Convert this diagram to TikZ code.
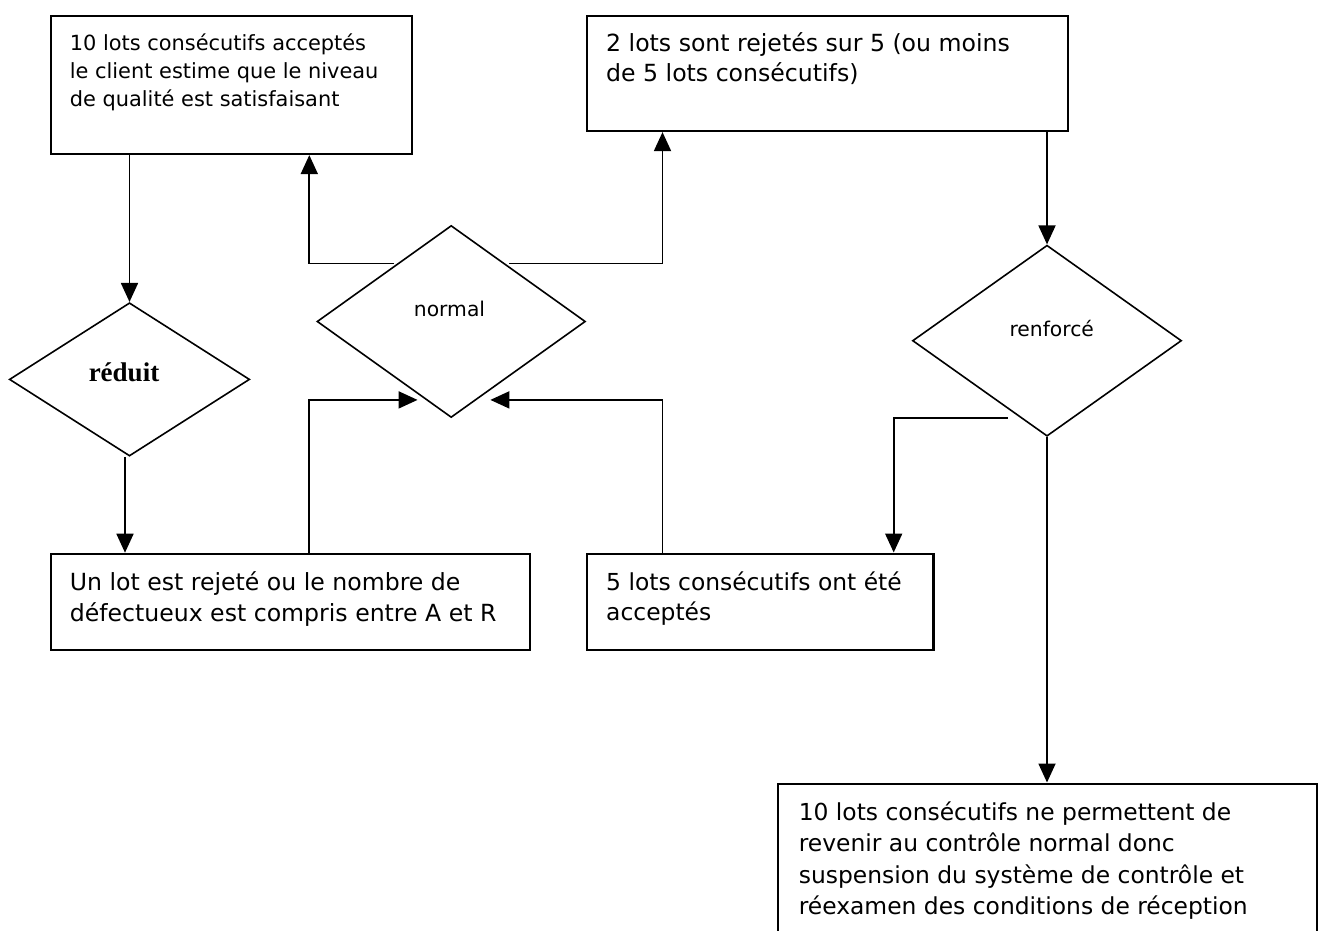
\documentclass[tikz,border=0pt]{standalone}
\usepackage{fontspec}
\setmainfont{DejaVu Sans}
\newfontfamily\labelserif{Liberation Serif}
\usetikzlibrary{shapes.geometric,arrows.meta,calc}

\tikzset{
  box/.style={draw, line width=2.1pt, inner sep=0pt, anchor=north west},
  dia/.style={draw, diamond, line width=1.6pt, inner sep=0pt},
  flow/.style={draw, line width=1.8pt, -{Triangle[width=17pt,length=19pt]}},
  % multi-line texts are placed by the baseline of their last line
  txt/.style={inner sep=0pt, anchor=base west, align=left},
  dlabel/.style={inner sep=0pt, anchor=base, font=\fontsize{20.3}{24}\selectfont},
}

\begin{document}
\begin{tikzpicture}[x=1pt,y=-1pt]
\useasboundingbox (0,0) rectangle (1319,931);
\clip (0,0) rectangle (1319,931);
\fill[white] (0,0) rectangle (1319,931);

% rectangular boxes
\node[box, minimum width=361.3pt, minimum height=138.3pt] (A) at (49.7,14.7) {};
\node[box, minimum width=481pt,   minimum height=115.3pt] (B) at (585.7,14.7) {};
\node[box, minimum width=479.3pt, minimum height=96pt]    (C) at (49.7,552.7) {};
\node[box, minimum width=346.7pt, minimum height=96pt]    (D) at (585.7,552.5) {};
\node[box, minimum width=539pt,   minimum height=250pt]   (E) at (777,782.5) {};

% texts of the boxes
\node[txt, font=\fontsize{20.9}{28}\selectfont] (Atxt) at (69.6,106.7)
  {10 lots consécutifs acceptés\\le client estime que le niveau\\de qualité est satisfaisant};
\node[txt, font=\fontsize{23.6}{30}\selectfont] (Btxt) at (606,81.7)
  {2 lots sont rejetés sur 5 (ou moins\\de 5 lots consécutifs)};
\node[txt, font=\fontsize{23.6}{30.5}\selectfont] (Ctxt) at (69.6,621.2)
  {Un lot est rejeté ou le nombre de\\défectueux est compris entre A et R};
\node[txt, font=\fontsize{23.4}{30}\selectfont] (Dtxt) at (606,620)
  {5 lots consécutifs ont été\\acceptés};
\node[txt, font=\fontsize{23.4}{31.4}\selectfont] (Etxt) at (798.6,914.6)
  {10 lots consécutifs ne permettent de\\revenir au contrôle normal donc\\suspension du système de contrôle et\\réexamen des conditions de réception};

% decision diamonds
\node[dia, minimum width=268.4pt, minimum height=192pt]   (normal)   at (451.2,321.5) {};
\node[dia, minimum width=240.3pt, minimum height=153.3pt] (reduit)   at (129.5,379.4) {};
\node[dia, minimum width=269pt,   minimum height=191pt]   (renforce) at (1047,340.7) {};

\node[dlabel] (normaltxt) at (449.5,316.7) {normal};
\node[dlabel] (renforcetxt) at (1051.7,336.7) {renforcé};
\node[inner sep=0pt, anchor=base, font=\labelserif\bfseries\fontsize{27}{30}\selectfont]
  (reduittxt) at (124,381.7) {réduit};

% connection points
\coordinate (rb)  at ($(reduit.south)+(-4.5,0)$);
\coordinate (cu)  at ($(C.north west)+(259.6,0)$);
\coordinate (du)  at ($(D.north west)+(76.8,0)$);
\coordinate (dd)  at ($(D.north west)+(308,0)$);
\coordinate (nl)  at ($(normal.south)!0.19!(normal.west)+(-8,0)$);
\coordinate (nr)  at ($(normal.south)!0.19!(normal.east)+(13.5,0)$);
\coordinate (nul) at ($(normal.north)!0.4!(normal.west)+(-3,0)$);
\coordinate (nur) at ($(normal.north)!0.4!(normal.east)+(4,0)$);
\coordinate (rl)  at ($(renforce.south)!0.2!(renforce.west)+(-12,0)$);

% connectors
\draw[flow] (A.south -| reduit.north) -- (reduit.north);
\draw[flow] (rb) -- (rb |- C.north);
\draw[flow] (cu) |- (nl);
\draw[flow] (du) |- (nr);
\draw[flow] (nul) -| (A.south -| cu);
\draw[flow] (nur) -| (B.south -| du);
\draw[flow] (B.south -| renforce.north) -- (renforce.north);
\draw[flow] (rl) -| (dd);
\draw[flow] (renforce.south) -- (renforce.south |- E.north);
\end{tikzpicture}
\end{document}
